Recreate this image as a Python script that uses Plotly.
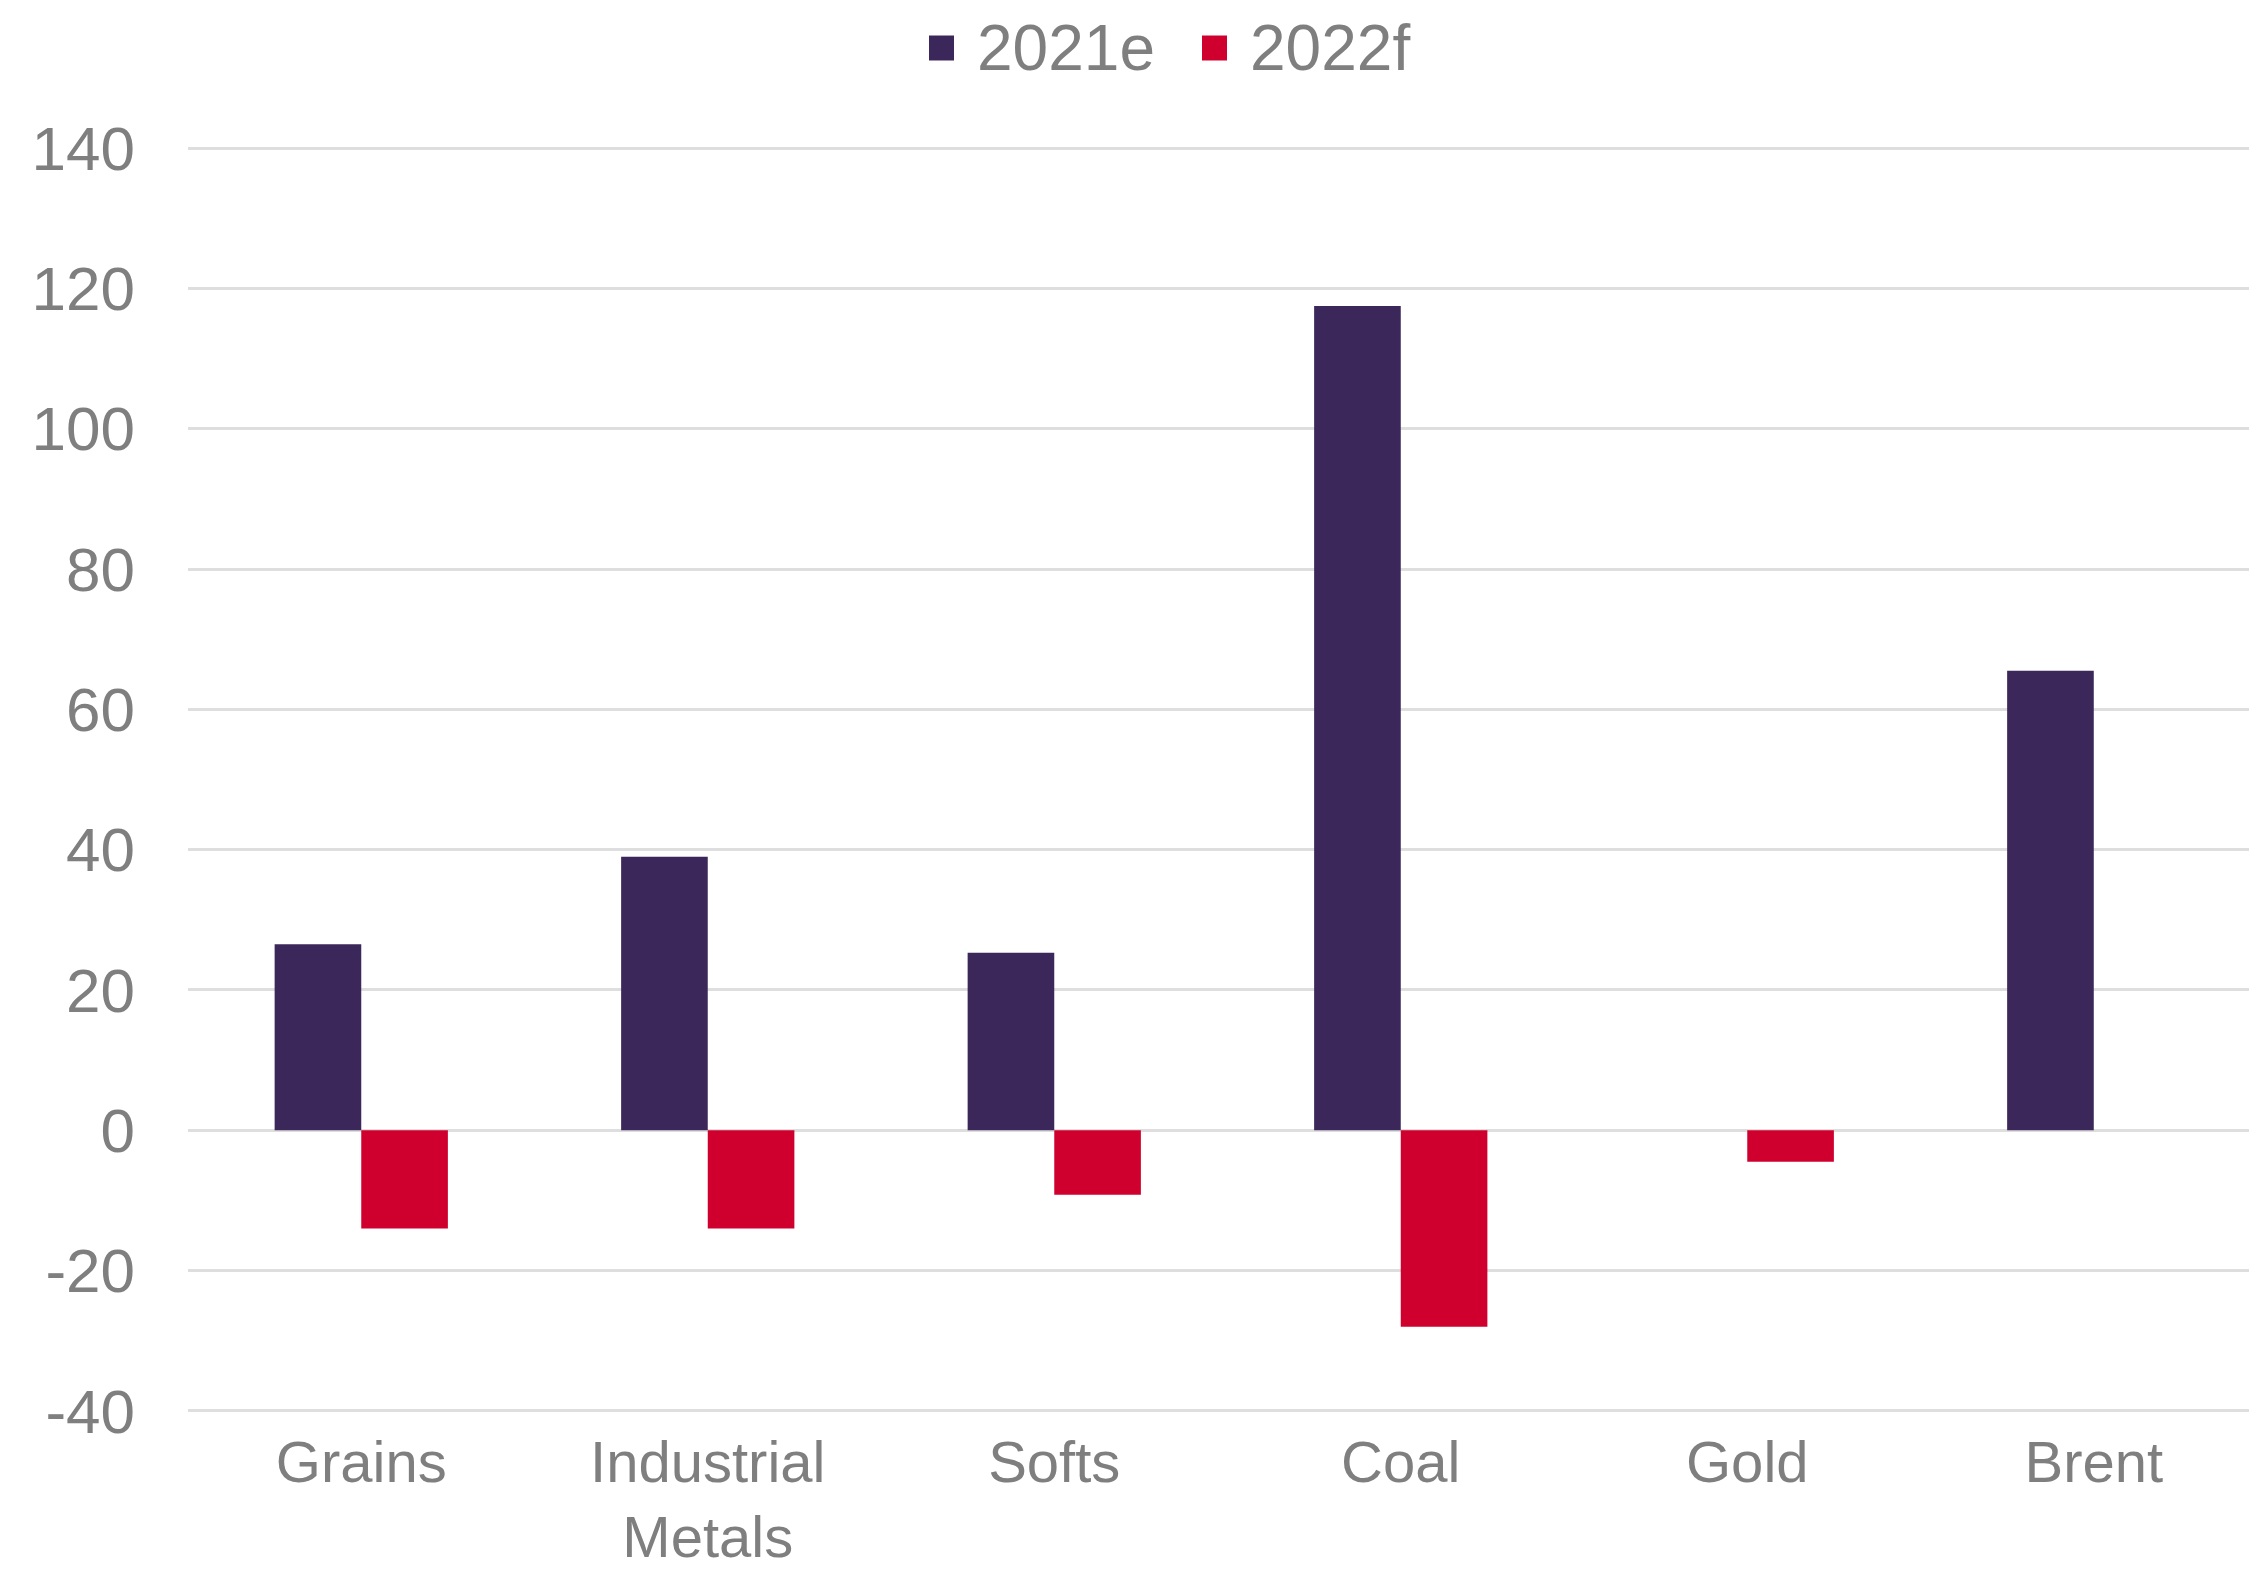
import plotly.graph_objects as go

# Commodity price changes, % y/y
categories = ["Grains", "Industrial<br>Metals", "Softs", "Coal", "Gold", "Brent"]
series_names = ["2021e", "2022f"]
values_2021e = [26.5, 39.0, 25.3, 117.5, None, 65.5]
values_2022f = [-14.0, -14.0, -9.2, -28.0, -4.5, None]
y_ticks = [-40, -20, 0, 20, 40, 60, 80, 100, 120, 140]
y_tick_text = [str(v) for v in y_ticks]  # plain hyphen for negatives

colors = ["#3b2759", "#d0002e"]
font_family = "Liberation Sans, Arial, sans-serif"
text_color = "#7f7f7f"
grid_color = "#dedede"

W, H = 2249, 1570
M_L, M_R, M_T, M_B = 188, 0, 146, 157

fig = go.Figure()
for name, vals, col in zip(series_names, [values_2021e, values_2022f], colors):
    fig.add_trace(go.Bar(
        x=categories, y=vals, name=name, showlegend=False,
        marker=dict(color=col, line=dict(width=0)),
    ))


def px_to_paper(px, py):
    """Convert page pixels to paper coordinates of the plot area."""
    return ((px - M_L) / (W - M_L - M_R), (H - M_B - py) / (H - M_T - M_B))


# Legend row above the plot: square key followed by the series name
legend_items = [(929, 975), (1202, 1248)]  # key left edge, text left edge (px)
key_size = 25
key_cy = 48
for (kx, tx), name, col in zip(legend_items, series_names, colors):
    x0, y0 = px_to_paper(kx, key_cy + key_size / 2)
    x1, y1 = px_to_paper(kx + key_size, key_cy - key_size / 2)
    fig.add_shape(type="rect", xref="paper", yref="paper",
                  x0=x0, x1=x1, y0=y0, y1=y1,
                  fillcolor=col, line=dict(width=0))
    ax, ay = px_to_paper(tx, key_cy)
    fig.add_annotation(xref="paper", yref="paper", x=ax, y=ay,
                       xanchor="left", yanchor="middle", showarrow=False,
                       text=name, font=dict(size=64, color=text_color))

fig.update_layout(
    width=W, height=H,
    margin=dict(l=M_L, r=M_R, t=M_T, b=M_B),
    paper_bgcolor="white", plot_bgcolor="white",
    barmode="group", bargap=0.5, bargroupgap=0,
    font=dict(family=font_family, size=62, color=text_color),
    showlegend=False,
)

fig.update_xaxes(
    range=[-0.5, 5.448], showgrid=False, zeroline=False, showline=False,
    ticks="", ticklabelstandoff=10, automargin=False,
    tickfont=dict(size=58, color=text_color),
)
fig.update_yaxes(
    range=[-40.3, 140.3], tickvals=y_ticks, ticktext=y_tick_text,
    showgrid=True, gridcolor=grid_color, gridwidth=3,
    zeroline=True, zerolinecolor=grid_color, zerolinewidth=3,
    showline=False, ticks="", ticklabelstandoff=52, automargin=False,
    tickfont=dict(size=62, color=text_color),
)

fig.write_html("out.html")
